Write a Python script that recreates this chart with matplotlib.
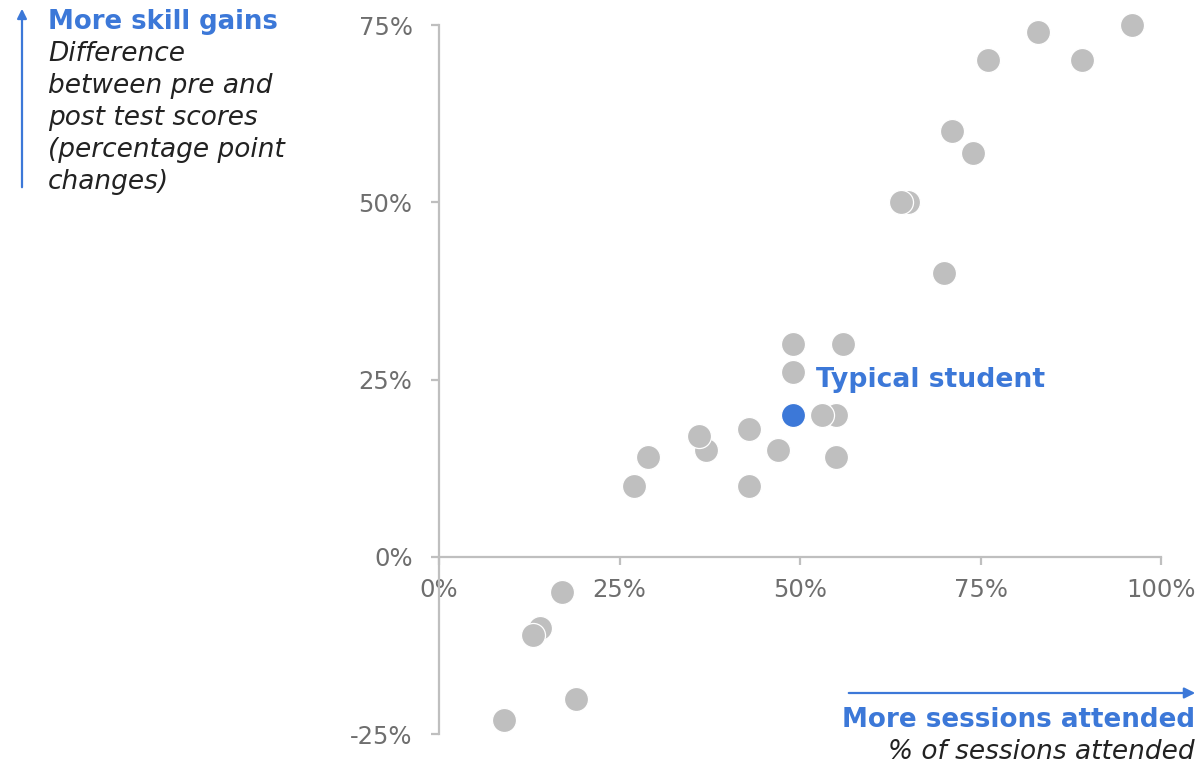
import matplotlib
matplotlib.use("Agg")
import matplotlib.pyplot as plt

# Data (percent), listed in draw order (descending attendance)
attendance = [96, 89, 83, 76, 74, 71, 70, 65, 64, 56, 55, 55, 53, 49, 49,
              47, 43, 43, 37, 36, 29, 27, 19, 17, 14, 13, 9]
skill_gain = [75, 70, 74, 70, 57, 60, 40, 50, 50, 30, 20, 14, 20, 30, 26,
              15, 18, 10, 15, 17, 14, 10, -20, -5, -10, -11, -23]
typical_x = [49]
typical_y = [20]
x_ticks = [0, 25, 50, 75, 100]
y_ticks = [-25, 0, 25, 50, 75]

BLUE = "#3C78D8"
GRAY = "#BFBFBF"
AXIS = "#BFBFBF"
TICKTXT = "#6E6E6E"
DARK = "#222222"
FONT = "DejaVu Sans"

W, H = 1203, 764
fig = plt.figure(figsize=(W / 100, H / 100), dpi=100)
ax = fig.add_axes([439 / W, (H - 734) / H, 722 / W, 709 / H])
ax.set_xlim(0, 100)
ax.set_ylim(-25, 75)

ax.scatter(attendance, skill_gain, s=300, color=GRAY, edgecolors="white",
           linewidths=0.9, clip_on=False, zorder=3)
ax.scatter(typical_x, typical_y, s=300, color=BLUE, edgecolors="white",
           linewidths=0.9, clip_on=False, zorder=4)

for s in ["top", "right"]:
    ax.spines[s].set_visible(False)
ax.spines["bottom"].set_position(("data", 0))
for s in ["left", "bottom"]:
    ax.spines[s].set_color(AXIS)
    ax.spines[s].set_linewidth(1.6)

ax.set_xticks(x_ticks)
ax.set_yticks(y_ticks)
ax.set_xticklabels([f"{v}%" for v in x_ticks])
ax.set_yticklabels([f"{v}%" for v in y_ticks])
ax.tick_params(axis="both", direction="out", length=6, width=1.6,
               color=AXIS, labelcolor=TICKTXT, labelsize=17.5)
ax.tick_params(axis="y", pad=13)
ax.tick_params(axis="x", pad=9)
for lab in ax.get_xticklabels() + ax.get_yticklabels():
    lab.set_fontfamily(FONT)


def ftext(x, y, s, **kw):
    fig.text(x / W, 1 - y / H, s, family=FONT, **kw)


# Y annotation
ftext(48, 22, "More skill gains", color=BLUE, fontsize=18.7, fontweight="bold",
      va="center", ha="left")
for i, line in enumerate(["Difference", "between pre and", "post test scores",
                          "(percentage point", "changes)"]):
    ftext(48, 54 + 32 * i, line, color=DARK, fontsize=19, style="italic",
          va="center", ha="left")
fig.add_artist(matplotlib.patches.FancyArrowPatch(
    (22 / W, 1 - 190 / H), (22 / W, 1 - 6 / H), transform=fig.transFigure,
    arrowstyle="-|>", mutation_scale=14, color=BLUE, lw=1.6))

# X annotation
fig.add_artist(matplotlib.patches.FancyArrowPatch(
    (846 / W, 1 - 693 / H), (1198 / W, 1 - 693 / H), transform=fig.transFigure,
    arrowstyle="-|>", mutation_scale=16, color=BLUE, lw=1.6))
ftext(1195, 720, "More sessions attended", color=BLUE, fontsize=18.8,
      fontweight="bold", va="center", ha="right")
ftext(1195, 752, "% of sessions attended", color=DARK, fontsize=19,
      style="italic", va="center", ha="right")

# Typical student label
ax.annotate("Typical student", xy=(typical_x[0], typical_y[0]),
            xytext=(816 / W, 1 - 380 / H), textcoords="figure fraction",
            color=BLUE, fontsize=19.2, fontweight="bold", family=FONT,
            va="center", ha="left")

fig.savefig("out.png", dpi=100, facecolor="white")
